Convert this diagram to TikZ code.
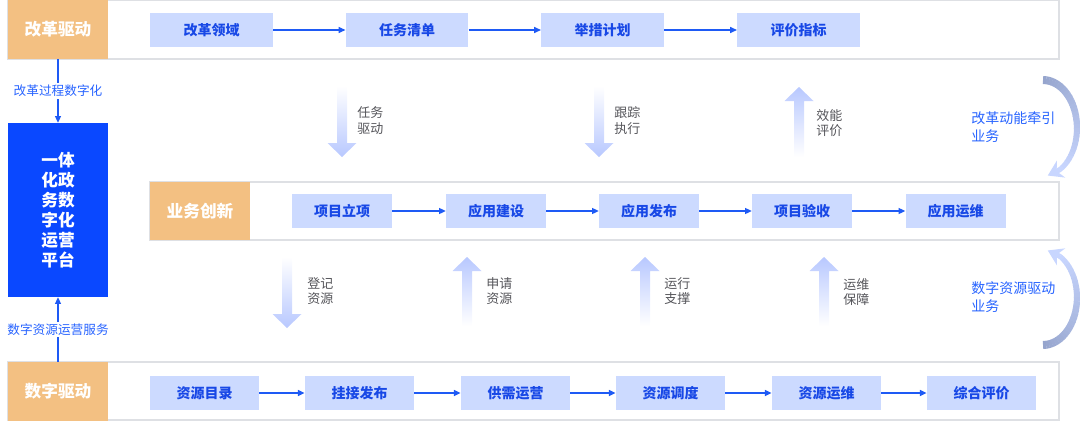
\documentclass[tikz,border=0pt]{standalone}
\usepackage{fontspec}
\setmainfont{Noto Sans CJK SC}
\usetikzlibrary{arrows.meta, positioning}
\definecolor{drvOrange}{RGB}{243,192,130}
\definecolor{stepFill}{RGB}{204,218,255}
\definecolor{stepText}{RGB}{24,72,230}
\definecolor{platBlue}{RGB}{10,72,255}
\definecolor{lineBlue}{RGB}{30,90,245}
\definecolor{bandGray}{RGB}{222,224,228}
\definecolor{labelGray}{RGB}{85,85,90}
\definecolor{sideBlue}{RGB}{40,100,255}
\definecolor{fatBlue}{RGB}{184,200,255}
\definecolor{arcDark}{RGB}{150,165,205}
\definecolor{arcLight}{RGB}{200,214,255}

% broad shaded arrows: x, tail y, tip y
\newcommand{\fatdown}[3]{%
  \shade[top color=white, bottom color=fatBlue]
    ({#1-5},#2) -- ({#1+5},#2) -- ({#1+5},{#3-14}) -- ({#1+14.5},{#3-14})
    -- (#1,#3) -- ({#1-14.5},{#3-14}) -- ({#1-5},{#3-14}) -- cycle;}
\newcommand{\fatup}[3]{%
  \shade[top color=fatBlue, bottom color=white]
    ({#1-5},#2) -- ({#1+5},#2) -- ({#1+5},{#3+14}) -- ({#1+14.5},{#3+14})
    -- (#1,#3) -- ({#1-14.5},{#3+14}) -- ({#1-5},{#3+14}) -- cycle;}

\begin{document}
\begin{tikzpicture}[x=0.75pt, y=-0.75pt,
  band/.style={draw=bandGray, line width=1.1pt, fill=white},
  drv/.style={rectangle, fill=drvOrange, inner sep=0pt,
              minimum width=75pt, minimum height=44pt,
              font=\fontsize{12.5}{15}\selectfont\bfseries, text=white},
  plat/.style={rectangle, fill=platBlue, inner sep=0pt,
               minimum width=75pt, minimum height=130.5pt, align=center,
               font=\fontsize{12.5}{15}\selectfont\bfseries, text=white},
  topbox/.style={rectangle, fill=stepFill, inner sep=0pt,
                 minimum width=92pt, minimum height=25pt,
                 font=\fontsize{10.5}{12}\selectfont\bfseries, text=stepText},
  midbox/.style={topbox, minimum width=75pt},
  botbox/.style={topbox, minimum width=82pt, minimum height=25.5pt},
  flow/.style={-{Triangle[length=5pt, width=4.5pt]}, line width=0.9pt, color=lineBlue},
  sidelbl/.style={fill=white, inner sep=1.5pt,
                  font=\fontsize{9.5}{11}\selectfont, text=sideBlue},
  glbl/.style={anchor=west, align=left, inner sep=0pt,
               font=\fontsize{9.75}{11.6}\selectfont, text=labelGray},
  blbl/.style={anchor=west, align=left, inner sep=0pt,
               font=\fontsize{10.5}{14}\selectfont, text=sideBlue}
]
\useasboundingbox (0,0) rectangle (1080,421);

%% ─── Bands ──────────────────────────────────────────────
\draw[band] (8,0.7) rectangle (1059,59);
\draw[band] (150,182) rectangle (1059,240);
\draw[band] (8,362) rectangle (1059,420);

%% ─── Left column ────────────────────────────────────────
\node[drv]  (gd)   at (58,29.5)  {改革驱动};
\node[plat] (pf)   at (58,210)   {一体\\化政\\务数\\字化\\运营\\平台};
\node[drv]  (sd)   at (58,391.5) {数字驱动};
\draw[flow] (gd.south) -- node[sidelbl]{改革过程数字化} (pf.north);
\draw[flow] (sd.north) -- node[sidelbl]{数字资源运营服务} (pf.south);

%% ─── Row 1: reform ──────────────────────────────────────
\node[topbox] (t1) at (211.5,30) {改革领域};
\node[topbox] (t2) at (407,30)   {任务清单};
\node[topbox] (t3) at (602.5,30) {举措计划};
\node[topbox] (t4) at (798.5,30) {评价指标};
\foreach \a/\b in {t1/t2, t2/t3, t3/t4}
  \draw[flow] (\a) -- (\b);

%% ─── Row 2: business ────────────────────────────────────
\node[drv, minimum height=43.5pt] (bi) at (200,211) {业务创新};
\node[midbox] (m1) at (342,211)   {项目立项};
\node[midbox] (m2) at (496,211)   {应用建设};
\node[midbox] (m3) at (649,211)   {应用发布};
\node[midbox] (m4) at (802,211)   {项目验收};
\node[midbox] (m5) at (955.5,211) {应用运维};
\foreach \a/\b in {m1/m2, m2/m3, m3/m4, m4/m5}
  \draw[flow] (\a) -- (\b);

%% ─── Row 3: data ────────────────────────────────────────
\node[botbox] (b1) at (204.5,393) {资源目录};
\node[botbox] (b2) at (359.5,393) {挂接发布};
\node[botbox] (b3) at (515.5,393) {供需运营};
\node[botbox] (b4) at (670.5,393) {资源调度};
\node[botbox] (b5) at (826.5,393) {资源运维};
\node[botbox] (b6) at (981.5,393) {综合评价};
\foreach \a/\b in {b1/b2, b2/b3, b3/b4, b4/b5, b5/b6}
  \draw[flow] (\a) -- (\b);

%% ─── Broad arrows between bands ─────────────────────────
\fatdown{342}{86}{157}
\fatdown{599}{86}{157}
\fatup{799}{157}{87}
\fatdown{287}{257}{328}
\fatup{467}{326}{257}
\fatup{645}{326}{257}
\fatup{824}{326}{257}
\node[glbl] (l1) at (357,120.5) {任务\\驱动};
\node[glbl] (l2) at (614,120.5) {跟踪\\执行};
\node[glbl] (l3) at (816,123)   {效能\\评价};
\node[glbl] (l4) at (307,291)   {登记\\资源};
\node[glbl] (l5) at (486,291)   {申请\\资源};
\node[glbl] (l6) at (664,291)   {运行\\支撑};
\node[glbl] (l7) at (843,292)   {运维\\保障};

%% ─── Curved arrows on the right ─────────────────────────
\foreach \i in {0,...,29} {
  \pgfmathsetmacro{\ta}{\i*5}
  \pgfmathsetmacro{\tb}{\i*5+5.6}
  \pgfmathtruncatemacro{\pc}{100-\i*100/29}
  \pgfmathsetmacro{\lw}{(8-\i*3/29)*0.75}
  \draw[line width=\lw pt, arcDark!\pc!arcLight]
    ({1043+34*sin(\ta)},{128-48*cos(\ta)}) -- ({1043+34*sin(\tb)},{128-48*cos(\tb)});
  \draw[line width=\lw pt, arcDark!\pc!arcLight]
    ({1043+34*sin(\ta)},{297.5+47.5*cos(\ta)}) -- ({1043+34*sin(\tb)},{297.5+47.5*cos(\tb)});
}
\coordinate (ua) at ({1043+34*sin(150)},{128-48*cos(150)});
\coordinate (ub) at ({1043+34*sin(172)},{128-48*cos(172)});
\coordinate (la) at ({1043+34*sin(150)},{297.5+47.5*cos(150)});
\coordinate (lb) at ({1043+34*sin(172)},{297.5+47.5*cos(172)});
\draw[arcLight, line width=3.8pt, -{Stealth[length=11pt, width=14pt]}] (ua) -- (ub);
\draw[arcLight, line width=3.8pt, -{Stealth[length=11pt, width=14pt]}] (la) -- (lb);
\node[blbl] (r1) at (971,127) {改革动能牵引\\业务};
\node[blbl] (r2) at (971,297) {数字资源驱动\\业务};

\end{tikzpicture}
\end{document}
